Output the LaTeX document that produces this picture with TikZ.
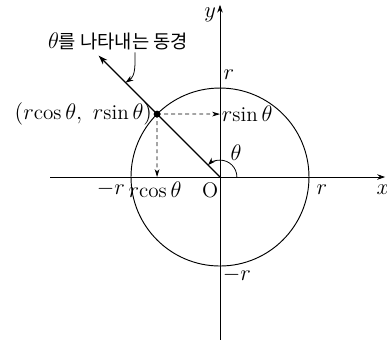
\documentclass[tikz,border=0pt]{standalone}
\usepackage{fontspec}
\newfontfamily\kofont{Noto Sans CJK KR}
\usetikzlibrary{arrows.meta, positioning, calc}

\begin{document}
\begin{tikzpicture}[
  font=\fontsize{13.5}{16}\selectfont,
  axis/.style={line width=0.5pt, -{Stealth[length=5pt,width=3.5pt]}},
  ray/.style={line width=0.7pt, -{Stealth[length=6pt,width=4pt]}},
  helper/.style={dash pattern=on 2.5pt off 2pt, line width=0.5pt, -{Stealth[length=5pt,width=3pt]}},
  pointer/.style={line width=0.5pt, -{Stealth[length=5pt,width=3.5pt]}},
  lbl/.style={inner sep=1pt},
]
\useasboundingbox (-4.944,-3.820) rectangle (3.753,3.978);

% axes
\coordinate (O) at (0,0);
\coordinate (xs) at (-3.82,0);
\coordinate (xe) at (3.71,0);
\coordinate (ys) at (0,-3.66);
\coordinate (ye) at (0,3.87);
\draw[axis] (xs) -- (xe);
\draw[axis] (ys) -- (ye);
\node[lbl] (xlab) at (3.66,-0.29) {$x$};
\node[lbl] (ylab) at (-0.22,3.64) {$y$};
\node[lbl] (olab) at (-0.22,-0.29) {O};

% circle and radius
\draw[line width=0.6pt] (O) circle (2);
\node[lbl] (rright) at (2.29,-0.29) {$r$};
\node[lbl] (rleft) at (-2.45,-0.27) {$-r$};
\node[lbl] (rtop) at (0.2,2.29) {$r$};
\node[lbl] (rbot) at (0.38,-2.2) {$-r$};

\coordinate (P) at (135:2);
\coordinate (R) at (135:3.86);
\draw[ray] (O) -- (R);
\fill (P) circle (2.2pt);
\node[lbl, left=2pt of P] (plab) {$(r\mathrm{cos}\,\theta,\ r\mathrm{sin}\,\theta)$};

% projections
\coordinate (Py) at (0,1.414);
\coordinate (Px) at (-1.414,0);
\draw[helper] (P) -- (Py);
\draw[helper] (P) -- (Px);
\node[lbl, anchor=west] (sinlab) at (Py) {$r\mathrm{sin}\,\theta$};
\node[lbl] (coslab) at (-1.46,-0.29) {$r\mathrm{cos}\,\theta$};

% angle
\draw[pointer] (0.38,0) arc (0:135:0.38);
\node[lbl] (thlab) at (0.36,0.55) {$\theta$};

% caption
\node[lbl] (cap) at (-2.29,3.04) {$\theta$\large\kofont 를 나타내는 동경};
\coordinate (c1) at (-1.91,2.8);
\coordinate (c2) at (135:3.0);
\draw[pointer] (c1) to[out=-90, in=35] (c2);
\end{tikzpicture}
\end{document}
